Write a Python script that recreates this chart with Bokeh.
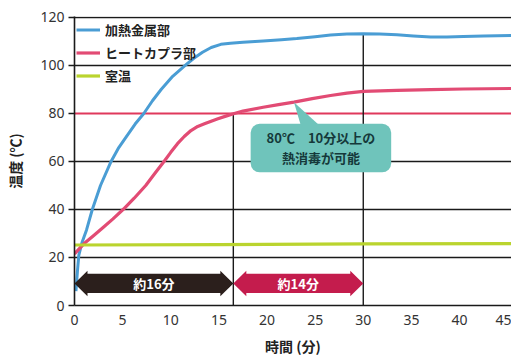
import numpy as np
from bokeh.plotting import figure
from bokeh.models import (Range1d, FixedTicker, Legend, LegendItem,
                          BoxAnnotation, Span)
from bokeh.core.properties import value
from bokeh.embed import file_html
from bokeh.resources import INLINE

# --- data -------------------------------------------------------------
metal_min = [0.15, 0.3, 0.45, 0.8, 1.25, 1.85, 2.7, 3.8, 4.6, 5.5, 6.3, 7.2,
             8.1, 9.0, 10.2, 11.5, 12.4, 13.3, 14.2, 15.2, 16.2, 17.5, 19.6,
             21.5, 23.1, 25.0, 26.6, 28.3, 30.0, 31.7, 33.5, 35.2, 37.0, 38.7,
             40.4, 42.5, 45.4]
metal_temp = [6, 14, 21, 26.5, 31.5, 40, 50, 60, 65.8, 71.0, 75.6, 80,
              85.3, 90, 95.5, 100, 103, 105.5, 107.5, 108.8, 109.3, 109.7,
              110.2, 110.7, 111.2, 112.0, 112.7, 113.1, 113.2, 113.1, 112.8,
              112.3, 111.9, 111.9, 112.1, 112.3, 112.5]

coupler_min = [0, 0.97, 2.0, 3.0, 4.0, 5.1, 6.2, 7.4, 8.3, 9.3, 10.0, 10.7,
               11.4, 12.1, 12.8, 13.5, 14.2, 14.9, 15.8, 16.6, 17.5, 19.6,
               21.2, 22.8, 24.7, 26.6, 28.3, 30.0, 33.5, 37.0, 40.4, 45.4]
coupler_temp = [21.5, 25.7, 29.2, 32.6, 36.1, 40.2, 44.7, 50, 54.8, 60, 63.8,
                67.4, 70.4, 72.9, 74.6, 75.7, 76.8, 77.8, 79.0, 80, 81.0,
                82.6, 83.7, 84.7, 86.2, 87.5, 88.5, 89.2, 89.6, 89.9, 90.2,
                90.4]

room_min = [0, 15, 30, 45.4]
room_temp = [25.2, 25.4, 25.7, 25.8]

series_names = ["加熱金属部", "ヒートカプラ部", "室温"]
threshold = 80
phase_start = [0, 16.5]
phase_end = [16.5, 30]
phase_labels = ["約16分", "約14分"]
note_lines = ["80℃　10分以上の", "熱消毒が可能"]
note_at = 22.8

x_ticks = [0, 5, 10, 15, 20, 25, 30, 35, 40, 45]
y_ticks = [0, 20, 40, 60, 80, 100, 120]

# --- styling ------------------------------------------------------------
BLUE = "#4a9dd4"
PINK = "#e24b74"
GREEN = "#bad42e"
CJK = value("Noto Sans CJK JP")

p = figure(width=511, height=358,
           x_range=Range1d(0, 45.4), y_range=Range1d(0, 120.4),
           output_backend="svg", toolbar_location=None,
           min_border_left=74, min_border_right=0,
           min_border_top=16, min_border_bottom=53)
p.outline_line_color = None
p.background_fill_color = "white"
p.border_fill_color = "white"

p.xgrid.visible = False
p.ygrid.ticker = FixedTicker(ticks=[t for t in y_ticks if t not in (0, threshold)])
p.ygrid.grid_line_color = "#1a1a1a"
p.ygrid.grid_line_width = 1.4

for ax in (p.xaxis[0], p.yaxis[0]):
    ax.axis_line_color = "#1a1a1a"
    ax.axis_line_width = 1.6
    ax.minor_tick_line_color = None
    ax.major_label_text_font = "Noto Sans"
    ax.major_label_text_font_size = "14px"
    ax.major_label_text_color = "#333333"
    ax.axis_label_text_font = "Noto Sans CJK JP"
    ax.axis_label_text_font_style = "bold"
    ax.axis_label_text_font_size = "14px"
    ax.axis_label_text_color = "#222222"

p.xaxis.ticker = FixedTicker(ticks=x_ticks)
p.xaxis.major_tick_out = 0
p.xaxis.major_tick_in = 0
p.xaxis.major_label_standoff = 9
p.xaxis.axis_label = "時間 (分)"
p.xaxis.axis_label_standoff = 8

p.yaxis.ticker = FixedTicker(ticks=y_ticks)
p.yaxis.major_tick_out = 6
p.yaxis.major_tick_in = 0
p.yaxis.major_tick_line_color = "#1a1a1a"
p.yaxis.major_tick_line_width = 1.4
p.yaxis.major_label_standoff = 4
p.yaxis.axis_label = "温度 (℃)"
p.yaxis.axis_label_standoff = 12

# 80 °C reference line
p.add_layout(Span(location=threshold, dimension="width", line_color="#e0385c",
                  line_width=2, level="underlay"))

# phase boundaries
tops = [threshold, float(np.interp(phase_end[1], metal_min, metal_temp))]
p.segment(x0=phase_end, y0=[0, 0], x1=phase_end, y1=tops,
          line_color="#1a1a1a", line_width=1.4)

# temperature curves
r_metal = p.line(metal_min, metal_temp, line_color=BLUE, line_width=3,
                 line_join="round")
r_coupler = p.line(coupler_min, coupler_temp, line_color=PINK, line_width=3.2,
                   line_join="round")
r_room = p.line(room_min, room_temp, line_color=GREEN, line_width=3.2)

# double-headed duration arrows
arrow_y, body_h, head_h, head_len = 9.2, 4.0, 5.3, 1.35
xs, ys = [], []
for a, b in zip(phase_start, phase_end):
    xs.append([a, a + head_len, a + head_len, b - head_len, b - head_len, b,
               b - head_len, b - head_len, a + head_len, a + head_len])
    ys.append([arrow_y, arrow_y + head_h, arrow_y + body_h, arrow_y + body_h,
               arrow_y + head_h, arrow_y, arrow_y - head_h, arrow_y - body_h,
               arrow_y - body_h, arrow_y - head_h])
p.patches(xs, ys, fill_color=["#2b1f1c", "#c41c4d"], line_color=None)
mid = [(a + b) / 2 for a, b in zip(phase_start, phase_end)]
p.text(mid, [arrow_y] * 2, text=phase_labels, text_color="white",
       text_font=CJK, text_font_style="bold", text_font_size="13px",
       text_align="center", text_baseline="middle")

# callout
box = dict(left=18.3, right=32.9, bottom=55.5, top=75.7)
tip_y = float(np.interp(note_at, coupler_min, coupler_temp))
p.patch([note_at, note_at + 0.7, note_at + 2.6],
        [tip_y, box["top"] - 0.5, box["top"] - 0.5],
        fill_color="#6fc4bb", line_color=None)
p.add_layout(BoxAnnotation(**box, fill_color="#6fc4bb", fill_alpha=1,
                           line_color=None, border_radius=9, level="annotation"))
cx = (box["left"] + box["right"]) / 2
t = p.text([cx, cx], [70.1, 61.8], text=note_lines, text_color="#15393a",
           text_font=CJK, text_font_style="bold", text_font_size="13px",
           text_align="center", text_baseline="middle")
t.level = "overlay"

legend = Legend(items=[LegendItem(label=n, renderers=[r]) for n, r in
                       zip(series_names, [r_metal, r_coupler, r_room])],
                location="top_left", margin=0, padding=2, spacing=0,
                label_height=23, glyph_height=23, glyph_width=24,
                label_standoff=5, background_fill_alpha=0,
                border_line_alpha=0, label_text_font="Noto Sans CJK JP",
                label_text_font_style="bold", label_text_font_size="13px",
                label_text_color="#222222")
p.add_layout(legend)

open("out.html", "w").write(file_html(p, INLINE))
